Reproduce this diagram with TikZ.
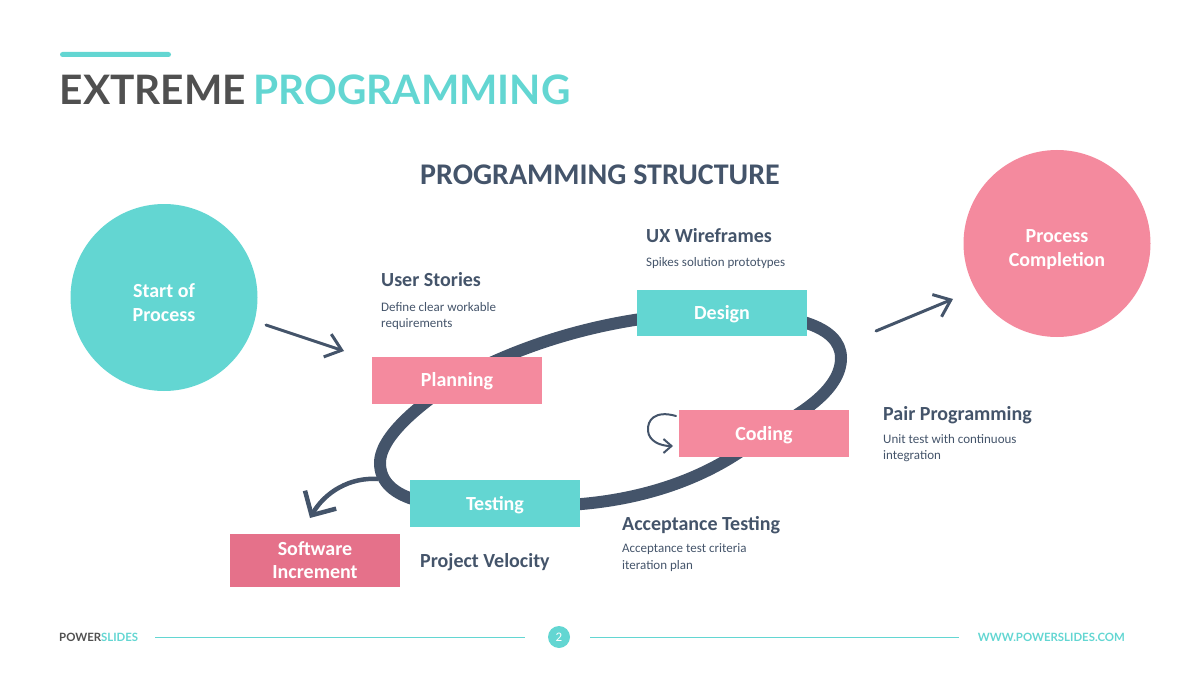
\documentclass[tikz,border=0pt]{standalone}
\usepackage{fontspec}
\setmainfont{Carlito}
\newfontfamily\latofont{Lato}
\usetikzlibrary{arrows.meta,backgrounds,calc}
\definecolor{teal1}{HTML}{63D6D2}
\definecolor{pink1}{HTML}{F48A9E}
\definecolor{pink2}{HTML}{E5718A}
\definecolor{navy}{HTML}{44546A}
\definecolor{grey1}{HTML}{505050}
\newcommand{\fs}[1]{\fontsize{#1}{#1}\selectfont}
\tikzset{
  box/.style={minimum width=170pt,minimum height=46pt,inner sep=0pt,align=center,text=white,font=\fs{20}\bfseries},
  onel/.style={text height=14pt,text depth=1pt},
  circ/.style={circle,minimum size=187pt,inner sep=0pt},
  circt/.style={inner sep=0pt,align=center,text=white,font=\fs{20}\bfseries},
  head/.style={anchor=base west,inner sep=0pt,text=navy,font=\fs{20}\bfseries},
  sub/.style={anchor=north west,inner sep=0pt,text=navy,align=left,font=\fs{13}},
  ring/.style={draw=navy,line width=12pt},
  hand/.style={draw=navy,line width=3pt,line cap=round,-{Straight Barb[length=15pt,width=24pt,line width=3pt]}},
}
\begin{document}
\begin{tikzpicture}[x=1pt,y=-1pt]
\useasboundingbox (0,0) rectangle (1200,674);
% header
\fill[teal1,rounded corners=2.5pt] (60,52) rectangle (171,57);
\node[anchor=base west,inner sep=0pt,font=\latofont\fs{40.6}\bfseries] (title) at (59.5,104.5) {\textcolor{grey1}{EXTREME}\hspace{-2pt} \textcolor{teal1}{PROGRAMMING}};
\node[anchor=base,inner sep=0pt,text=navy,font=\fs{30}\bfseries] (sub) at (600,185) {PROGRAMMING STRUCTURE};
% circles
\node[circ,fill=teal1] (start) at (164,297.5) {};
\node[circt] (startt) at ($(start)+(0,5.5)$) {Start of\\[4pt]Process};
\node[circ,fill=pink1] (done) at (1057,243.5) {};
\node[circt] (donet) at ($(done)+(0,6)$) {Process\\[4pt]Completion};
% boxes
\node[box,onel,fill=pink1,minimum height=47pt] (plan) at (457,380) {Planning};
\node[box,onel,fill=teal1] (design) at (722,313) {Design};
\node[box,onel,fill=pink1,minimum height=47pt] (code) at (764,433.5) {Coding};
\node[box,onel,fill=teal1,minimum height=47pt] (test) at (495,503.5) {Testing};
\node[box,fill=pink2,minimum height=53pt] (soft) at (315,560.5) {Software\\[3pt]Increment};
% ring
\begin{scope}[on background layer]
\coordinate (rr) at (841,358);
\coordinate (rl) at (380,463);
\draw[ring] (plan.center) .. controls (525,342) and (620,313) .. (design.center);
\draw[ring] (design.center) .. controls (790,313) and (841,325) .. (rr)
   .. controls (841,390) and (800,415) .. (code.center);
\draw[ring] (code.center) .. controls (710,480) and (620,515) .. (test.center);
\draw[ring] (test.center) .. controls (440,510) and (380,502) .. (rl)
   .. controls (380,432) and (434,395) .. (plan.center);
\end{scope}
% arrows
\coordinate (a1) at (266,325);
\coordinate (a2) at (344,351);
\draw[hand] (a1) -- (a2);
\coordinate (b1) at (876,331);
\coordinate (b2) at (953,299);
\draw[hand] (b1) -- (b2);
\coordinate (c1) at (378,479);
\coordinate (c2) at (310,518);
\draw[draw=navy,line width=4.5pt,-{Straight Barb[length=18pt,width=36pt,line width=4.5pt]}] (c1) .. controls (350,477) and (325,492) .. (c2);
\coordinate (d1) at (676,416);
\coordinate (d2) at (673,446);
\draw[draw=navy,line width=2pt,line cap=round,-{Straight Barb[length=8pt,width=14pt,line width=2pt]}] (d1) .. controls (655,410) and (647,420) .. (648,431) .. controls (649,441) and (660,446) .. (d2);
% labels
\node[head] (l1) at (381,286) {User Stories};
\node[sub] (l1s) at (381,302) {Define clear workable\\[3.5pt]requirements};
\node[head] (l2) at (646,242) {UX Wireframes};
\node[sub] (l2s) at (646,257.5) {Spikes solution prototypes};
\node[head] (l3) at (883,420) {Pair Programming};
\node[sub] (l3s) at (883,434) {Unit test with continuous\\[3.5pt]integration};
\node[head] (l4) at (622,530) {Acceptance Testing};
\node[sub] (l4s) at (622,543.5) {Acceptance test criteria\\[3.5pt]iteration plan};
\node[head] (l5) at (420,567) {Project Velocity};
% footer
\node[anchor=base west,inner sep=0pt,font=\latofont\fs{11.4}\bfseries] (f1) at (59,641) {\textcolor{grey1}{POWER}\textcolor{teal1}{SLIDES}};
\node[circle,fill=teal1,minimum size=22pt,inner sep=0pt,text=white,font=\fs{13}] (pg) at (559,637) {2};
\coordinate (g1) at (155,637);
\coordinate (g2) at (525,637);
\coordinate (g3) at (590,637);
\coordinate (g4) at (959,637);
\draw[teal1,line width=1pt] (g1) -- (g2);
\draw[teal1,line width=1pt] (g3) -- (g4);
\node[anchor=base east,inner sep=0pt,text=teal1,font=\latofont\fs{11.4}\bfseries] (f2) at (1125,641) {WWW.POWERSLIDES.COM};
\end{tikzpicture}
\end{document}
